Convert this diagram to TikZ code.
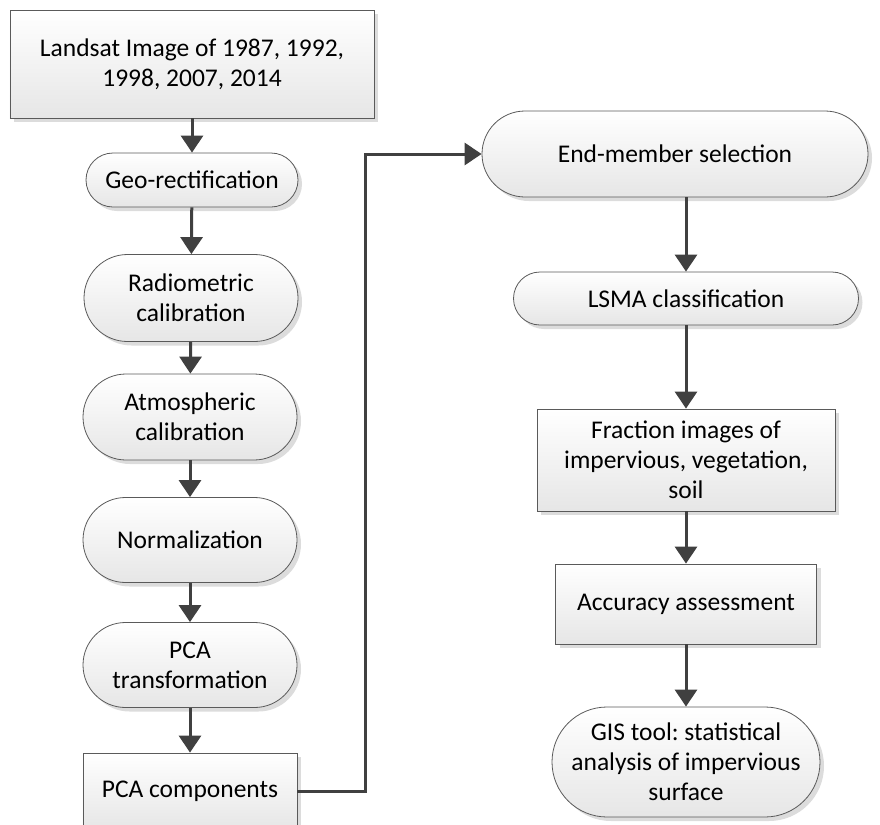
\documentclass[tikz,border=0pt]{standalone}
\usepackage{fontspec}
\setmainfont{Carlito}
\usetikzlibrary{arrows.meta,shadows}
\definecolor{edgegray}{HTML}{5A5A5A}
\definecolor{arrowgray}{HTML}{404040}
\definecolor{fillbottom}{HTML}{E6E6E6}
\definecolor{shadowgray}{HTML}{DCDCDC}
\frenchspacing

\begin{document}
\begin{tikzpicture}[x=1bp,y=-1bp,
  font=\fontsize{25.5bp}{30bp}\selectfont,
  base/.style={draw=edgegray, line width=0.8bp, top color=white,
    bottom color=fillbottom, align=center, inner sep=0pt,
    drop shadow={shadow xshift=4bp, shadow yshift=-4bp, fill=shadowgray, opacity=1}},
  boxnode/.style 2 args={base, rectangle, minimum width=#1, minimum height=#2},
  pill/.style 2 args={base, rectangle, rounded corners=#2/2,
    minimum width=#1, minimum height=#2},
  flow/.style={draw=arrowgray, line width=3bp,
    -{Triangle[width=22bp,length=17bp]}}
]
\useasboundingbox (0,0) rectangle (880,825);

% left column: preprocessing chain
\node[boxnode={364bp}{108bp}] (land) at (192,64)
  {Landsat Image of 1987, 1992,\\1998, 2007, 2014};
\node[pill={212bp}{54bp}] (geo) at (192,180) {Geo-rectification};
\node[pill={214bp}{87bp}] (radio) at (191,298) {Radiometric\\calibration};
\node[pill={214bp}{86bp}] (atmo) at (190,417) {Atmospheric\\calibration};
\node[pill={214bp}{85bp}] (norm) at (190,540) {Normalization};
\node[pill={214bp}{85bp}] (pcat) at (190,665) {PCA\\transformation};
\node[boxnode={214bp}{76bp}] (pcac) at (190,791) {PCA components};

% right column: unmixing and analysis
\node[pill={386bp}{86bp}] (endm) at (675,154) {End-member selection};
\node[pill={345bp}{53bp}] (lsma) at (686,298.5) {LSMA classification};
\node[boxnode={298bp}{102bp}] (frac) at (686,460)
  {Fraction images of\\impervious, vegetation,\\soil};
\node[boxnode={261bp}{80bp}] (acc) at (686,604) {Accuracy assessment};
\node[pill={268bp}{110bp}] (gis) at (686,762)
  {GIS tool: statistical\\analysis of impervious\\surface};

% connectors
\draw[flow] (land) -- (geo);
\draw[flow] (geo) -- (radio);
\draw[flow] (radio) -- (atmo);
\draw[flow] (atmo) -- (norm);
\draw[flow] (norm) -- (pcat);
\draw[flow] (pcat) -- (pcac);

\coordinate (bend) at (365,154);
\draw[flow] (pcac.east) -| (bend) -- (endm.west);

\draw[flow] (endm.south -| lsma.north) -- (lsma.north);
\draw[flow] (lsma) -- (frac);
\draw[flow] (frac) -- (acc);
\draw[flow] (acc) -- (gis);
\end{tikzpicture}
\end{document}
